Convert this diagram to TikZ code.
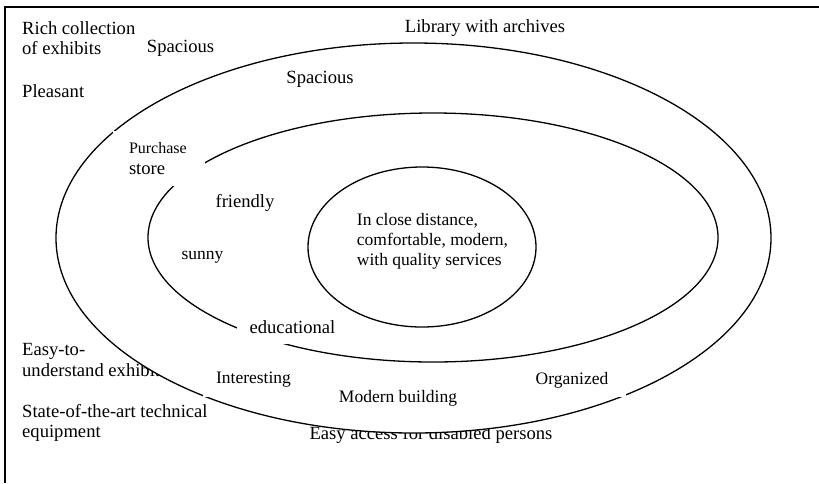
\documentclass[tikz,border=0pt]{standalone}
\usepackage{fontspec}
\setmainfont{Liberation Serif}
\usepackage{tikz}

\tikzset{
  lbl/.style={inner sep=0pt, align=left, font=\fontsize{17.5}{20}\selectfont},
  big/.style={lbl, font=\fontsize{18.6}{20.5}\selectfont},
  cover/.style={fill=white},
  ring/.style={draw, line width=1.3pt}
}

\begin{document}
\begin{tikzpicture}[x=1pt, y=-1pt]
        \useasboundingbox (0,0) rectangle (819,483);

        % Frame
        \draw[line width=1.3pt] (819,7) -- (5,7) -- (5,483);

        % Texts under the outer ring
        \node[big, anchor=west] (easy) at (22,360) {Easy-to-\\understand exhibits};
        \node[big] (access) at (431,435) {Easy access for disabled persons};

        % Rings
        \draw[ring, fill=white] (413.5,238) ellipse [x radius=357.5, y radius=195];
        \draw[ring] (433,237.5) ellipse [x radius=285, y radius=124.5];
        \draw[ring] (422,247) ellipse [x radius=114, y radius=80];

        % Outside
        \node[big, anchor=west] (rich) at (22,38) {Rich collection\\of exhibits};
        \node[big] (spac1) at (180.5,48) {Spacious};
        \node[big, anchor=west] (pleas) at (22,91) {Pleasant};
        \node[big] (lib) at (485,28) {Library with archives};
        \node[big, anchor=west] (state) at (22,423) {State-of-the-art technical\\equipment};

        % Outer ring
        \node[big] (spac2) at (320,79) {Spacious};
        \node[big, cover, text width=60pt, minimum width=92pt, minimum height=55pt] (store) at (159,158.5) {{\fontsize{16}{20}\selectfont Purchase}\\store};
        \node[lbl, cover, minimum width=101pt, minimum height=34pt] (inter) at (253.5,380) {Interesting};
        \node[lbl] (build) at (398,398) {Modern building};
        \node[lbl, cover, minimum width=108pt, minimum height=34pt] (org) at (572,380) {Organized};

        % Middle ring
        \node[big] (friend) at (245,203) {friendly};
        \node[lbl] (sunny) at (202.5,257) {sunny};
        \node[big, cover, minimum width=111pt, minimum height=34pt] (edu) at (292.5,327) {educational};

        % Inner ring
        \node[lbl] (core) at (432.5,241) {In close distance,\\comfortable, modern,\\with quality services};

\end{tikzpicture}
\end{document}
